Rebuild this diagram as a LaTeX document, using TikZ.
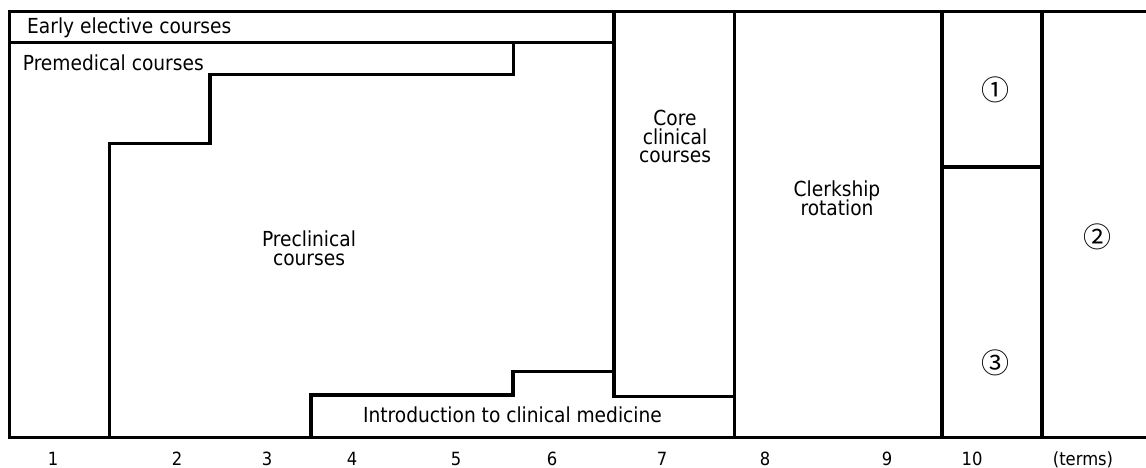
\documentclass[tikz,border=0pt]{standalone}
\usepackage{fontspec}
\setmainfont{DejaVu Sans Condensed}
\newfontfamily\circfont{Noto Sans CJK JP}
\newcommand\lblfont{\fontsize{20.7}{18.5}\selectfont\lineskiplimit -30pt\relax}
\begin{document}
\begin{tikzpicture}[x=1pt,y=-1pt,
  wall/.style={line width=3.2pt, draw=black},
  lbl/.style={inner sep=0pt, font=\lblfont},
  mlbl/.style={lbl, align=center},
  term/.style={inner sep=0pt, anchor=base, font=\fontsize{18.2}{20}\selectfont},
  circ/.style={inner sep=0pt, font=\circfont\fontsize{28}{30}\selectfont}]
\useasboundingbox (0,0) rectangle (1146,468);
% frame and columns
\draw[wall] (1150,11.5) -- (9.5,11.5) -- (9.5,437.5) -- (1150,437.5);
\draw[wall] (9.5,42.7) -- (614,42.7);
\draw[wall] (614,11.5) -- (614,396.5) -- (734.5,396.5);
\draw[wall] (734.5,11.5) -- (734.5,437.5);
\draw[wall] (942,11.5) -- (942,437.5);
\draw[wall] (1042,11.5) -- (1042,437.5);
\draw[wall] (942,167) -- (1042,167);
% premedical step
\draw[wall] (513.3,42.7) -- (513.3,74.7) -- (210,74.7) -- (210,143.3) -- (109.5,143.3) -- (109.5,437.5);
% introduction step
\draw[wall] (311,437.5) -- (311,395) -- (513,395) -- (513,371.7) -- (614,371.7);
% labels (multi-line nodes: base anchor = last line baseline)
\node[lbl, anchor=base west] (early) at (27,34) {Early elective courses};
\node[lbl, anchor=base west] (premed) at (22.7,71) {Premedical courses};
\node[mlbl, anchor=base] (precl) at (309,265) {Preclinical\\courses};
\node[mlbl, anchor=base] (core) at (675,163) {Core\\clinical\\courses};
\node[mlbl, anchor=base] (clerk) at (837,215) {Clerkship\\rotation};
\node[lbl, anchor=base] (intro) at (512.5,422) {Introduction to clinical medicine};
\node[circ] (c1) at (995,90) {①};
\node[circ] (c2) at (1097,237) {②};
\node[circ] (c3) at (995,363) {③};
% term axis
\node[term] (t1) at (53,465) {1};
\node[term] (t2) at (177,465) {2};
\node[term] (t3) at (267,465) {3};
\node[term] (t4) at (352,465) {4};
\node[term] (t5) at (456,465) {5};
\node[term] (t6) at (552,465) {6};
\node[term] (t7) at (662,465) {7};
\node[term] (t8) at (765,465) {8};
\node[term] (t9) at (887,465) {9};
\node[term] (t10) at (972,465) {10};
\node[term] (tt) at (1083,465) {(terms)};
\end{tikzpicture}
\end{document}
